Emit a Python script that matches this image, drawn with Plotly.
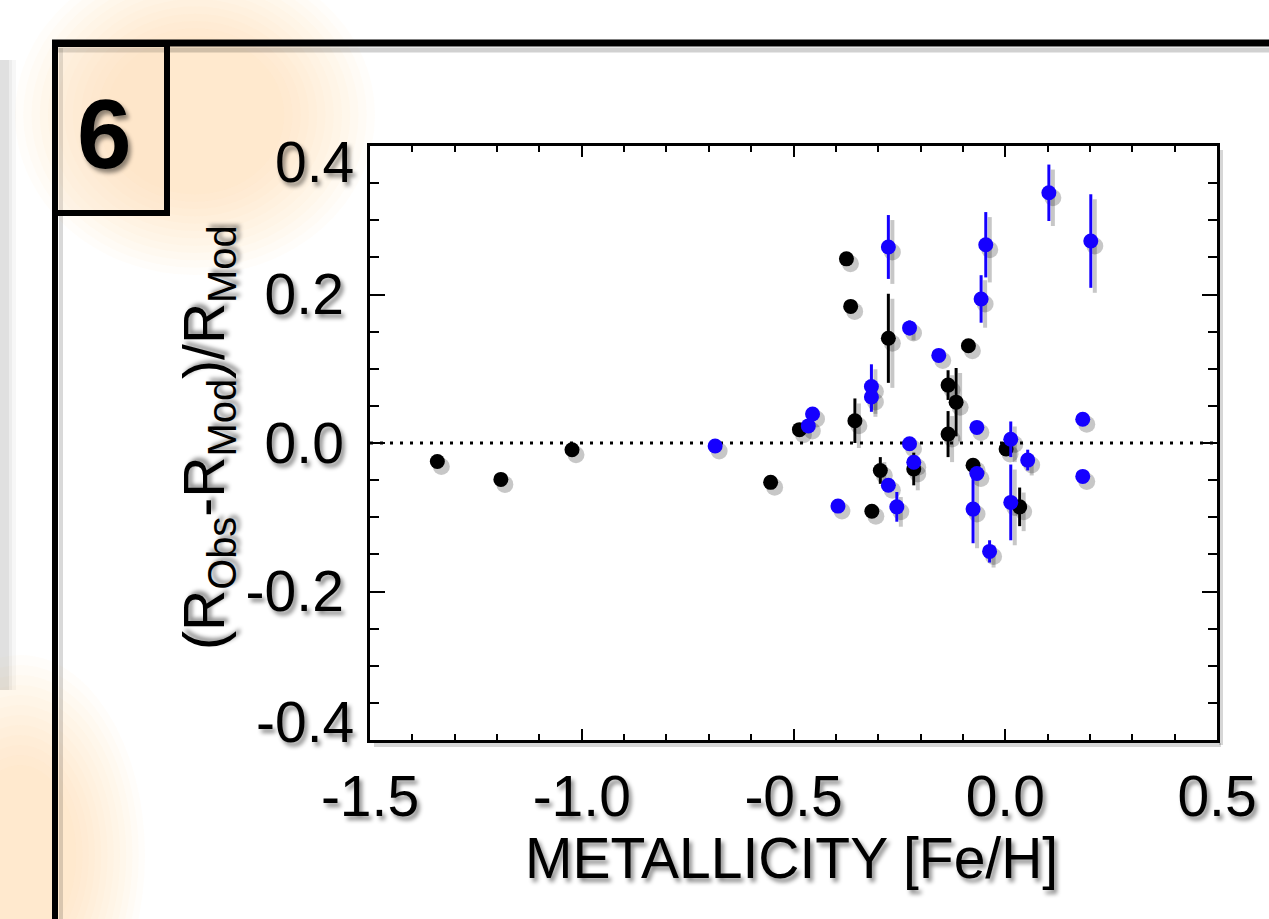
import plotly.graph_objects as go

# ---------------- data ----------------
black_feh = [-1.341, -1.191, -1.023, -0.554, -0.486, -0.375, -0.365, -0.355, -0.315, -0.295,
             -0.276, -0.216, -0.135, -0.135, -0.116, -0.087, -0.076, 0.002, 0.034]
black_dr = [-0.025, -0.049, -0.009, -0.053, 0.018, 0.248, 0.184, 0.030, -0.092, -0.037,
            0.141, -0.035, 0.078, 0.012, 0.055, 0.131, -0.030, -0.008, -0.086]
black_err = [0, 0, 0, 0, 0, 0, 0, 0.030, 0, 0.018,
             0.060, 0.022, 0.020, 0.031, 0.046, 0, 0, 0, 0.026]

blue_feh = [-0.685, -0.465, -0.455, -0.395, -0.316, -0.316, -0.276, -0.276, -0.256, -0.226,
            -0.226, -0.216, -0.157, -0.076, -0.067, -0.067, -0.057, -0.046, -0.037, 0.013,
            0.013, 0.053, 0.103, 0.183, 0.183, 0.202]
blue_dr = [-0.004, 0.023, 0.039, -0.085, 0.076, 0.062, 0.264, -0.057, -0.086, 0.155,
           -0.001, -0.026, 0.118, -0.089, 0.021, -0.041, 0.194, 0.267, -0.146, 0.005,
           -0.080, -0.023, 0.337, 0.032, -0.045, 0.272]
blue_err = [0, 0, 0, 0, 0.030, 0.020, 0.043, 0, 0.020, 0.010,
            0, 0, 0, 0.046, 0, 0, 0.032, 0.044, 0.015, 0.024,
            0.051, 0.014, 0.038, 0, 0, 0.063]

x_tickvals = [-1.5, -1.0, -0.5, 0.0, 0.5]
x_ticklabels = ["-1.5", "-1.0", "-0.5", "0.0", "0.5"]
y_tickvals = [-0.4, -0.2, 0.0, 0.2, 0.4]
y_ticklabels = ["-0.4", "-0.2", "0.0", "0.2", "0.4"]
x_title = "METALLICITY [Fe/H]"
y_title = "(R<sub>Obs</sub>-R<sub>Mod</sub>)/R<sub>Mod</sub>"
panel_label = "6"

# ---------------- layout geometry ----------------
W, H = 1269, 919
L, R, T, B = 370, 52, 146, 179
PW, PH = W - L - R, H - T - B
XR = [-1.5, 0.5]
YR = [-0.4, 0.4]


def px(x):
    return (x - L) / PW


def py(y):
    return (H - B - y) / PH


FONT = "Liberation Sans, Arial, Helvetica, sans-serif"
TSHADOW = "3px 4px 4px rgba(0,0,0,0.45)"
BLUE = "#1500ff"
SHADOW = "rgba(0,0,0,0.22)"

# shadow offset in data units (4 px right, 5 px down)
dx = 4 * (XR[1] - XR[0]) / PW
dy = 5 * (YR[1] - YR[0]) / PH

fig = go.Figure()

# shadows (drawn on the first overlay axes)
for xs, ys, es in [(black_feh, black_dr, black_err), (blue_feh, blue_dr, blue_err)]:
    fig.add_trace(go.Scatter(
        x=xs, y=ys, mode="markers", xaxis="x2", yaxis="y2", hoverinfo="skip",
        marker=dict(size=17, color=SHADOW, line=dict(width=0)),
        error_y=dict(type="data", array=es, visible=True, color=SHADOW, thickness=4, width=0),
        showlegend=False))

# data
fig.add_trace(go.Scatter(
    x=black_feh, y=black_dr, mode="markers", xaxis="x3", yaxis="y3",
    marker=dict(size=15, color="black", line=dict(width=0)),
    error_y=dict(type="data", array=black_err, visible=True, color="black", thickness=3, width=0),
    showlegend=False))
fig.add_trace(go.Scatter(
    x=blue_feh, y=blue_dr, mode="markers", xaxis="x3", yaxis="y3",
    marker=dict(size=15, color=BLUE, line=dict(width=0)),
    error_y=dict(type="data", array=blue_err, visible=True, color=BLUE, thickness=3, width=0),
    showlegend=False))

shapes = []


def glow(cx, cy, rx, ry, rgb, alpha, n, shrink):
    for k in range(n):
        f = 1 - shrink * k / n
        shapes.append(dict(type="circle", xref="paper", yref="paper", layer="below",
                           x0=px(cx - rx * f), x1=px(cx + rx * f),
                           y0=py(cy + ry * f), y1=py(cy - ry * f),
                           fillcolor="rgba(%d,%d,%d,%.3f)" % (rgb + (alpha,)),
                           line=dict(width=0)))


# background glows (blurred slide artwork)
glow(195, 115, 180, 160, (252, 208, 150), 0.05, 12, 0.55)
glow(20, 855, 125, 200, (253, 218, 160), 0.05, 12, 0.6)
# left grey blurred strip
for w, a in [(16, 0.03), (12, 0.04), (9, 0.05)]:
    shapes.append(dict(type="rect", xref="paper", yref="paper", layer="below",
                       x0=px(0), x1=px(w), y0=py(690), y1=py(60),
                       fillcolor="rgba(0,0,0,%.2f)" % a, line=dict(width=0)))

# frame shadows
shapes.append(dict(type="line", xref="paper", yref="paper", layer="below",
                   x0=px(58), x1=px(1275), y0=py(50), y1=py(50),
                   line=dict(color="rgba(0,0,0,0.18)", width=5)))
shapes.append(dict(type="line", xref="paper", yref="paper", layer="below",
                   x0=px(61), x1=px(61), y0=py(48), y1=py(925),
                   line=dict(color="rgba(0,0,0,0.15)", width=4)))
# axis box shadow
shapes.append(dict(type="line", xref="paper", yref="paper", layer="below",
                   x0=px(1221), x1=px(1221), y0=py(150), y1=py(745),
                   line=dict(color="rgba(0,0,0,0.16)", width=4)))
shapes.append(dict(type="line", xref="paper", yref="paper", layer="below",
                   x0=px(374), x1=px(1221), y0=py(745), y1=py(745),
                   line=dict(color="rgba(0,0,0,0.16)", width=4)))

# panel frame
shapes.append(dict(type="rect", xref="paper", yref="paper", layer="below",
                   x0=px(55), x1=px(167), y0=py(213), y1=py(44),
                   fillcolor="rgba(252,222,190,0.25)", line=dict(color="black", width=6)))
shapes.append(dict(type="line", xref="paper", yref="paper", layer="above",
                   x0=px(52), x1=px(1275), y0=py(43), y1=py(43),
                   line=dict(color="black", width=7)))
shapes.append(dict(type="line", xref="paper", yref="paper", layer="above",
                   x0=px(55), x1=px(55), y0=py(40), y1=py(925),
                   line=dict(color="black", width=6)))

# dotted zero line
shapes.append(dict(type="line", xref="x", yref="y", layer="below",
                   x0=XR[0], x1=XR[1], y0=0, y1=0,
                   line=dict(color="black", width=3, dash="3px,7px")))

annotations = [
    dict(text=panel_label, xref="paper", yref="paper", x=px(104), y=py(134),
         xanchor="center", yanchor="middle", showarrow=False,
         font=dict(family=FONT, size=98, color="black", weight="bold", shadow=TSHADOW)),
    dict(text=y_title, xref="paper", yref="paper", x=px(208), y=py(438), textangle=-90,
         xanchor="center", yanchor="middle", showarrow=False,
         font=dict(family=FONT, size=57, color="black", shadow=TSHADOW)),
    dict(text=x_title, xref="paper", yref="paper", x=px(791), y=py(858),
         xanchor="center", yanchor="middle", showarrow=False,
         font=dict(family=FONT, size=57, color="black", shadow=TSHADOW)),
    dict(text=y_ticklabels[-1], xref="paper", yref="paper", x=px(356), y=py(162),
         xanchor="right", yanchor="middle", showarrow=False,
         font=dict(family=FONT, size=57, color="black", shadow=TSHADOW)),
    dict(text=y_ticklabels[0], xref="paper", yref="paper", x=px(356), y=py(722),
         xanchor="right", yanchor="middle", showarrow=False,
         font=dict(family=FONT, size=57, color="black", shadow=TSHADOW)),
]

tickfont = dict(family=FONT, size=57, color="black", shadow=TSHADOW)

fig.update_layout(
    width=W, height=H,
    margin=dict(l=L, r=R, t=T, b=B, pad=0),
    paper_bgcolor="white", plot_bgcolor="rgba(0,0,0,0)",
    showlegend=False,
    shapes=shapes, annotations=annotations,
    xaxis=dict(range=XR, tickvals=x_tickvals, ticktext=x_ticklabels, tickfont=tickfont,
               ticks="inside", ticklen=11, tickwidth=2, tickcolor="black",
               minor=dict(dtick=0.1, tick0=-1.5, ticks="inside", ticklen=6, tickwidth=2,
                          tickcolor="black", showgrid=False),
               showline=True, linecolor="black", linewidth=2.5, mirror="ticks",
               showgrid=False, zeroline=False, ticklabelstandoff=5),
    yaxis=dict(range=YR, tickvals=y_tickvals[1:-1], ticktext=y_ticklabels[1:-1], tickfont=tickfont,
               ticks="inside", ticklen=15, tickwidth=2, tickcolor="black",
               minor=dict(dtick=0.05, tick0=-0.4, ticks="inside", ticklen=9, tickwidth=2,
                          tickcolor="black", showgrid=False),
               showline=True, linecolor="black", linewidth=2.5, mirror="ticks",
               showgrid=False, zeroline=False, ticklabelstandoff=12),
    xaxis2=dict(range=[XR[0] - dx, XR[1] - dx], overlaying="x", visible=False),
    yaxis2=dict(range=[YR[0] + dy, YR[1] + dy], overlaying="y", visible=False),
    xaxis3=dict(range=XR, overlaying="x", visible=False),
    yaxis3=dict(range=YR, overlaying="y", visible=False),
)

fig.write_html("out.html", config=dict(displayModeBar=False),
               post_script="document.body.style.margin='0';")
